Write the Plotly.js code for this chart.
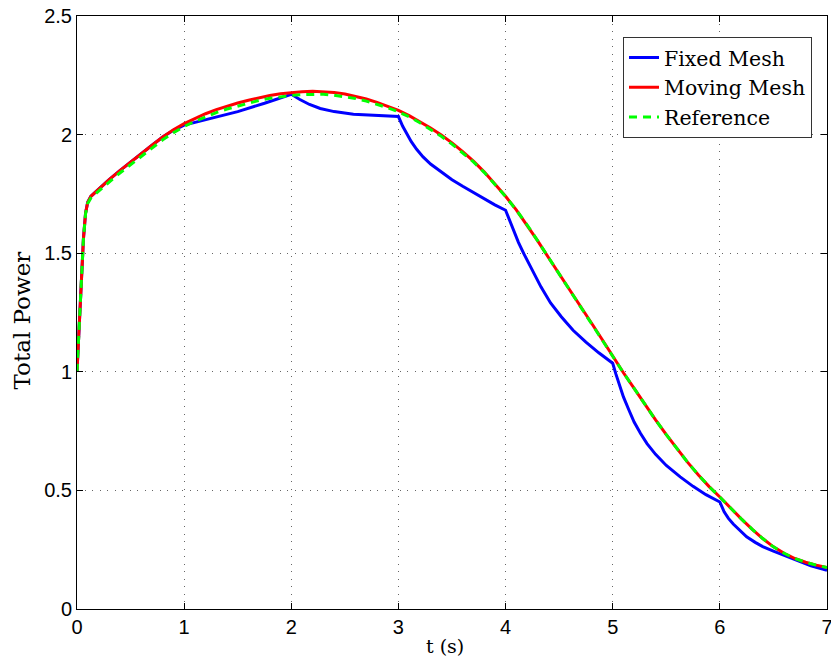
<!DOCTYPE html>
<html>
<head>
<meta charset="utf-8">
<script src="https://cdn.plot.ly/plotly-3.0.1.min.js"></script>
<style>html,body{margin:0;padding:0;background:#fff}#chart{width:831px;height:658px}</style>
</head>
<body>
<div id="chart"></div>
<script>
// Moving mesh (red)
const tMoving = [0, 0.02, 0.04, 0.06, 0.08, 0.1, 0.13, 0.2, 0.3, 0.4, 0.5, 0.6, 0.7, 0.8, 0.9, 1.0, 1.1, 1.2, 1.3, 1.4, 1.5, 1.6, 1.7, 1.8, 1.9, 2.0, 2.1, 2.2, 2.3, 2.4, 2.5, 2.6, 2.7, 2.8, 2.9, 3.0, 3.1, 3.2, 3.3, 3.4, 3.5, 3.6, 3.7, 3.8, 3.9, 4.0, 4.1, 4.2, 4.3, 4.4, 4.5, 4.6, 4.7, 4.8, 4.9, 5.0, 5.1, 5.2, 5.3, 5.4, 5.5, 5.6, 5.7, 5.8, 5.9, 6.0, 6.1, 6.2, 6.3, 6.4, 6.5, 6.6, 6.7, 6.8, 6.9, 7.0];
const pMoving = [1.0, 1.17, 1.38, 1.56, 1.67, 1.715, 1.74, 1.77, 1.81, 1.848, 1.885, 1.92, 1.955, 1.99, 2.02, 2.046, 2.068, 2.088, 2.105, 2.12, 2.133, 2.145, 2.156, 2.165, 2.172, 2.177, 2.181, 2.183, 2.182, 2.178, 2.171, 2.162, 2.15, 2.136, 2.12, 2.102, 2.08, 2.055, 2.028, 1.998, 1.965, 1.928, 1.888, 1.843, 1.793, 1.74, 1.683, 1.62, 1.552, 1.482, 1.414, 1.347, 1.278, 1.207, 1.137, 1.066, 0.996, 0.93, 0.862, 0.797, 0.735, 0.675, 0.618, 0.565, 0.516, 0.472, 0.425, 0.38, 0.337, 0.297, 0.262, 0.235, 0.213, 0.197, 0.185, 0.175];

// Reference (green dashed)
const tRef = [0, 0.02, 0.04, 0.06, 0.08, 0.1, 0.13, 0.2, 0.3, 0.4, 0.5, 0.6, 0.7, 0.8, 0.9, 1.0, 1.1, 1.2, 1.3, 1.4, 1.5, 1.6, 1.7, 1.8, 1.9, 2.0, 2.1, 2.2, 2.3, 2.4, 2.5, 2.6, 2.7, 2.8, 2.9, 3.0, 3.1, 3.2, 3.3, 3.4, 3.5, 3.6, 3.7, 3.8, 3.9, 4.0, 4.1, 4.2, 4.3, 4.4, 4.5, 4.6, 4.7, 4.8, 4.9, 5.0, 5.1, 5.2, 5.3, 5.4, 5.5, 5.6, 5.7, 5.8, 5.9, 6.0, 6.1, 6.2, 6.3, 6.4, 6.5, 6.6, 6.7, 6.8, 6.9, 7.0];
const pRef = [1.0, 1.17, 1.38, 1.56, 1.665, 1.71, 1.733, 1.762, 1.8, 1.838, 1.874, 1.909, 1.943, 1.978, 2.008, 2.034, 2.056, 2.076, 2.093, 2.108, 2.121, 2.133, 2.144, 2.153, 2.16, 2.165, 2.169, 2.171, 2.17, 2.166, 2.16, 2.152, 2.141, 2.128, 2.113, 2.096, 2.075, 2.05, 2.023, 1.993, 1.96, 1.924, 1.885, 1.841, 1.792, 1.739, 1.682, 1.62, 1.552, 1.482, 1.414, 1.347, 1.278, 1.207, 1.137, 1.066, 0.996, 0.93, 0.862, 0.797, 0.735, 0.675, 0.618, 0.565, 0.516, 0.472, 0.425, 0.38, 0.337, 0.297, 0.262, 0.235, 0.213, 0.197, 0.185, 0.175];

// Fixed mesh (blue)
const tFixed = [0, 0.02, 0.04, 0.06, 0.08, 0.1, 0.13, 0.2, 0.3, 0.4, 0.5, 0.6, 0.7, 0.8, 0.9, 1.0, 1.25, 1.5, 1.75, 2.0, 2.08, 2.17, 2.27, 2.4, 2.58, 2.8, 3.0, 3.04, 3.08, 3.12, 3.17, 3.23, 3.3, 3.4, 3.5, 3.6, 3.7, 3.8, 3.9, 4.0, 4.03, 4.07, 4.12, 4.17, 4.25, 4.33, 4.42, 4.52, 4.63, 4.75, 4.87, 5.0, 5.03, 5.06, 5.1, 5.15, 5.2, 5.26, 5.32, 5.4, 5.5, 5.63, 5.75, 5.87, 6.0, 6.04, 6.08, 6.125, 6.19, 6.25, 6.33, 6.4, 6.5, 6.6, 6.72, 6.85, 7.0];
const pFixed = [1.0, 1.17, 1.38, 1.56, 1.67, 1.715, 1.74, 1.77, 1.81, 1.848, 1.885, 1.92, 1.955, 1.99, 2.018, 2.04, 2.068, 2.097, 2.132, 2.17, 2.148, 2.127, 2.11, 2.097, 2.086, 2.08, 2.076, 2.035, 2.0, 1.97, 1.938, 1.906, 1.876, 1.841, 1.81, 1.782, 1.755, 1.728, 1.704, 1.681, 1.645, 1.597, 1.546, 1.498, 1.425, 1.358, 1.29, 1.232, 1.175, 1.125, 1.08, 1.036, 0.99, 0.945, 0.894, 0.84, 0.788, 0.74, 0.697, 0.652, 0.605, 0.557, 0.517, 0.482, 0.451, 0.41, 0.382, 0.358, 0.328, 0.304, 0.281, 0.263, 0.244, 0.227, 0.205, 0.182, 0.163];

const xTicks = [0, 1, 2, 3, 4, 5, 6, 7];
const yTicks = [0, 0.5, 1, 1.5, 2, 2.5];
const yTickLabels = ['0', '0.5', '1', '1.5', '2', '2.5'];

const serif = 'DejaVu Serif, Liberation Serif, serif';
const sans = 'Liberation Sans, DejaVu Sans, sans-serif';

const traces = [
  {x: tFixed, y: pFixed, name: 'Fixed Mesh', mode: 'lines', line: {color: '#0000ff', width: 3}},
  {x: tMoving, y: pMoving, name: 'Moving Mesh', mode: 'lines', line: {color: '#ff0000', width: 3}},
  {x: tRef, y: pRef, name: 'Reference', mode: 'lines', line: {color: '#00ff00', width: 3, dash: '8px,6px'}}
];

const axisCommon = {
  showline: true, linecolor: '#000', linewidth: 1, mirror: 'ticks',
  ticks: 'inside', ticklen: 6, tickcolor: '#000', tickwidth: 1,
  showgrid: true, gridcolor: '#666', griddash: '1px,6.5px', gridwidth: 1,
  zeroline: false, ticklabeloverflow: 'allow',
  tickfont: {family: sans, size: 20, color: '#000'}
};

const layout = {
  width: 831, height: 658,
  margin: {l: 77, r: 4, t: 16, b: 49},
  paper_bgcolor: '#fff', plot_bgcolor: '#fff',
  showlegend: true,
  xaxis: Object.assign({}, axisCommon, {range: [0, 7], tickvals: xTicks, ticktext: xTicks.map(String)}),
  yaxis: Object.assign({}, axisCommon, {range: [0, 2.5], tickvals: yTicks, ticktext: yTickLabels}),
  legend: {
    x: 0.98, y: 0.965, xanchor: 'right', yanchor: 'top',
    bgcolor: '#fff', bordercolor: '#333', borderwidth: 1,
    font: {family: serif, size: 20.5, color: '#000'},
    tracegroupgap: 0
  },
  annotations: [
    {text: 't (s)', xref: 'paper', yref: 'paper', x: 0.49, y: -0.062, xanchor: 'center', yanchor: 'middle',
     showarrow: false, font: {family: serif, size: 19, color: '#000'}},
    {text: 'Total Power', xref: 'paper', yref: 'paper', x: -0.073, y: 0.487, xanchor: 'center', yanchor: 'middle',
     textangle: -90, showarrow: false, font: {family: serif, size: 23, color: '#000'}}
  ]
};

Plotly.newPlot('chart', traces, layout, {displayModeBar: false, staticPlot: true});
</script>
</body>
</html>
